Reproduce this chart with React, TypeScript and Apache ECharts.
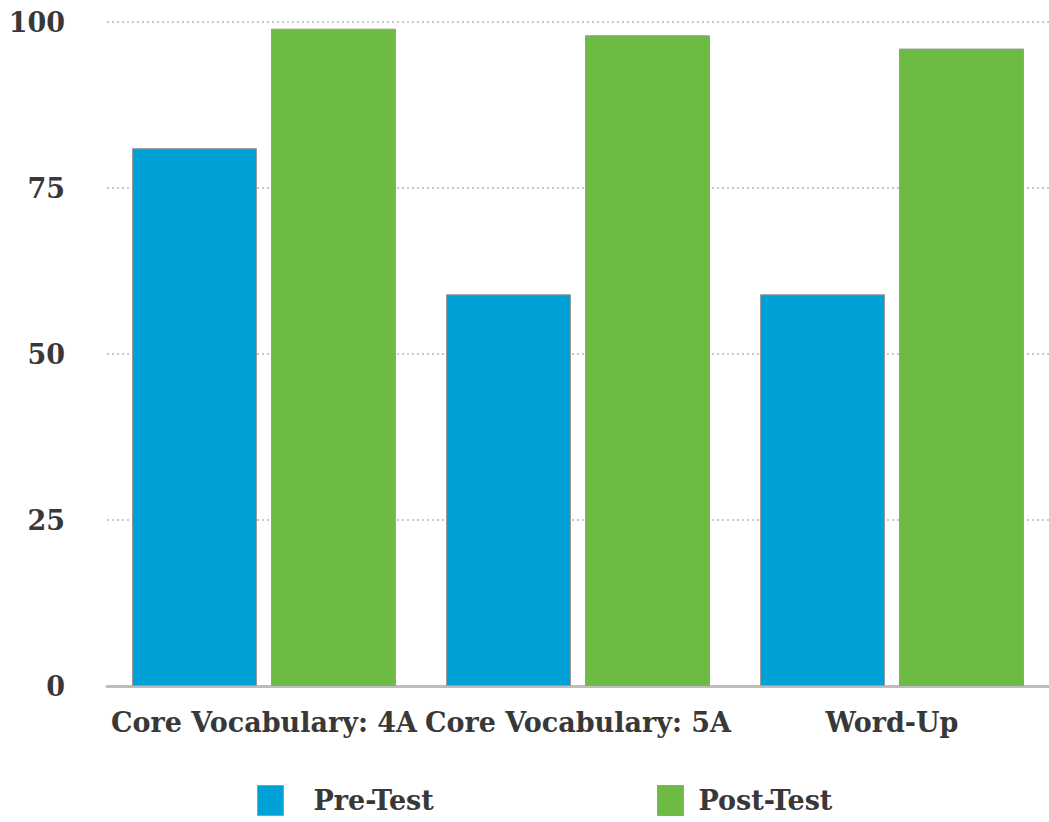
import React, { useEffect, useRef } from "react";
import * as echarts from "echarts";

const categories = ["Core Vocabulary: 4A", "Core Vocabulary: 5A", "Word-Up"];
const preTest = [81, 59, 59];
const postTest = [99, 98, 96];
const yTicks = [0, 25, 50, 75, 100];

const FONT = "'DejaVu Serif', serif";

export default function App() {
  const ref = useRef<HTMLDivElement>(null);
  useEffect(() => {
    if (!ref.current) return;
    const chart = echarts.init(ref.current, null, { renderer: "svg" });
    chart.setOption({
      animation: false,
      backgroundColor: "#ffffff",
      grid: { left: 107, right: -7, top: 22, bottom: 136, containLabel: false },
      legend: [
        {
          data: ["Pre-Test"],
          left: 257,
          top: 785,
          padding: 0,
          itemWidth: 26,
          itemHeight: 30,
          icon: "rect",
          itemStyle: { borderColor: "#9a9a9a", borderWidth: 1 },
          textStyle: { fontFamily: FONT, fontSize: 27, fontWeight: "bold", color: "#383838", padding: [0, 0, 0, 25] },
        },
        {
          data: ["Post-Test"],
          left: 657,
          top: 785,
          padding: 0,
          itemWidth: 26,
          itemHeight: 30,
          icon: "rect",
          itemStyle: { borderColor: "#9a9a9a", borderWidth: 1 },
          textStyle: { fontFamily: FONT, fontSize: 27, fontWeight: "bold", color: "#383838", padding: [0, 0, 0, 10] },
        },
      ],
      xAxis: {
        type: "category",
        data: categories,
        axisLine: { show: true, lineStyle: { color: "#bdbdbd", width: 3 } },
        axisTick: { show: false },
        axisLabel: { fontFamily: FONT, fontSize: 27, fontWeight: "bold", color: "#383838", margin: 23, interval: 0 },
      },
      yAxis: {
        type: "value",
        min: yTicks[0],
        max: yTicks[yTicks.length - 1],
        interval: 25,
        axisLine: { show: false },
        axisTick: { show: false },
        axisLabel: { fontFamily: FONT, fontSize: 27, fontWeight: "bold", color: "#383838", margin: 42, verticalAlign: "middle", padding: [6, 0, 0, 0] },
        splitLine: { lineStyle: { color: "#c8c8c8", type: [2, 3], width: 2 } },
      },
      series: [
        {
          name: "Pre-Test",
          type: "bar",
          data: preTest,
          barWidth: 125,
          barGap: "11.2%",
          itemStyle: { color: "#00a1d7", borderColor: "#9a9a9a", borderWidth: 1 },
        },
        {
          name: "Post-Test",
          type: "bar",
          data: postTest,
          barWidth: 125,
          itemStyle: { color: "#6dba45", borderColor: "#9a9a9a", borderWidth: 1 },
        },
      ],
    });
    return () => chart.dispose();
  }, []);
  return (
    <div
      ref={ref}
      style={{ position: "absolute", left: 0, top: 0, width: 1049, height: 822 }}
    />
  );
}
